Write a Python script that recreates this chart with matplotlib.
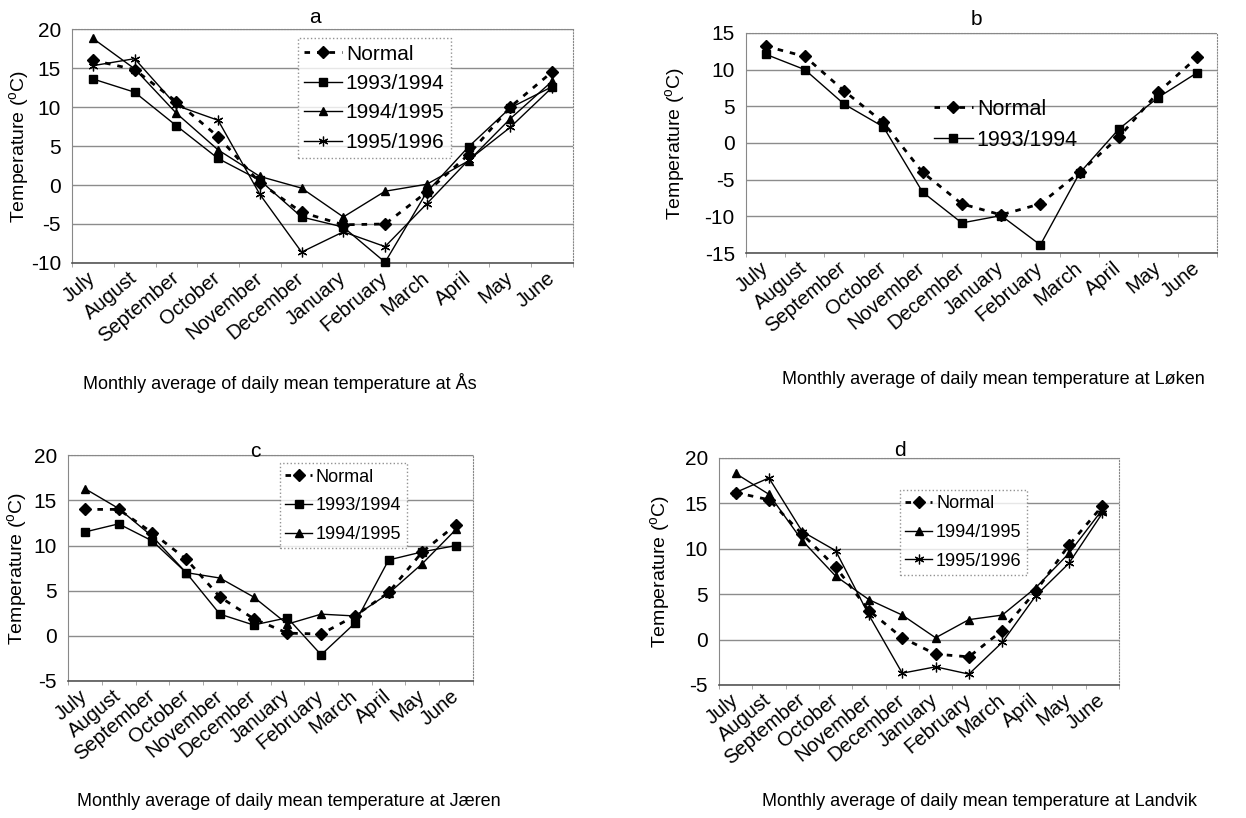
import matplotlib
matplotlib.use("Agg")
import matplotlib.pyplot as plt
import numpy as np

plt.rcParams['font.family'] = ['Liberation Sans', 'DejaVu Sans']
plt.rcParams['mathtext.fontset'] = 'custom'
plt.rcParams['mathtext.rm'] = 'Liberation Sans'
plt.rcParams['axes.unicode_minus'] = False

# data
months = ['July', 'August', 'September', 'October', 'November', 'December',
          'January', 'February', 'March', 'April', 'May', 'June']

as_normal = [16.0, 14.8, 10.7, 6.2, 0.3, -3.5, -5.1, -5.0, -0.9, 3.9, 10.0, 14.5]
as_1993 = [13.6, 11.9, 7.6, 3.4, 0.6, -4.1, -5.4, -9.9, -0.9, 4.9, 9.9, 12.6]
as_1994 = [18.8, 14.9, 9.2, 4.5, 1.1, -0.4, -4.1, -0.8, 0.1, 3.1, 8.5, 13.3]
as_1995 = [15.3, 16.2, 10.2, 8.3, -1.2, -8.6, -6.0, -7.9, -2.4, 3.2, 7.4, 12.5]

loken_normal = [13.2, 11.8, 7.1, 2.8, -4.0, -8.3, -9.8, -8.3, -4.0, 0.8, 6.9, 11.7]
loken_1993 = [12.1, 10.0, 5.3, 2.2, -6.7, -10.9, -9.9, -13.9, -4.1, 1.9, 6.2, 9.6]

jaeren_normal = [14.0, 14.0, 11.4, 8.5, 4.3, 1.9, 0.3, 0.2, 2.2, 4.8, 9.3, 12.3]
jaeren_1993 = [11.5, 12.4, 10.5, 7.0, 2.4, 1.2, 2.0, -2.1, 1.4, 8.4, 9.3, 10.0]
jaeren_1994 = [16.3, 14.1, 11.0, 7.0, 6.4, 4.3, 1.3, 2.4, 2.2, 4.7, 8.0, 11.8]

landvik_normal = [16.2, 15.4, 11.6, 8.0, 3.2, 0.2, -1.6, -1.9, 1.0, 5.3, 10.4, 14.7]
landvik_1994 = [18.3, 16.0, 10.9, 7.0, 4.4, 2.7, 0.2, 2.2, 2.7, 5.7, 9.5, 14.3]
landvik_1995 = [16.2, 17.8, 11.9, 9.8, 2.7, -3.7, -3.0, -3.8, -0.3, 4.8, 8.4, 13.9]

styles = {
    'Normal': dict(marker='D', ms=6.5, lw=2.0, ls=(0, (2, 2.5))),
    '1993/1994': dict(marker='s', ms=5.5, lw=1.0, ls='-'),
    '1994/1995': dict(marker='^', ms=6, lw=1.0, ls='-'),
    '1995/1996': dict(marker=(6, 2, 0), ms=7, lw=1.0, ls='-', mew=0.9),
}

fig = plt.figure(figsize=(12.46, 8.18), dpi=100)


def draw_panel(rect, series, ylim, letter, letter_pos, xlabel, xlabel_pos, legend_pos, ylabel_x,
               legend_size=15, handle_len=1.8, spacing=0.5, legend_frame=True):
    ax = fig.add_axes(rect)
    x = np.arange(len(months)) + 0.5

    for name, values in series:
        st = styles[name]
        ax.plot(x, values, color='black', marker=st['marker'], markersize=st['ms'],
                linewidth=st['lw'], linestyle=st['ls'], mew=st.get('mew', 1.0),
                label=name, clip_on=False, zorder=3)

    ax.set_xlim(0, len(months))
    ax.set_ylim(*ylim)
    ax.set_yticks(np.arange(ylim[0], ylim[1] + 1, 5))
    ax.yaxis.grid(True, color='#8c8c8c', linewidth=1.0)
    ax.set_axisbelow(True)
    ax.tick_params(axis='y', length=0, pad=8, labelsize=15)

    # month names in the middle of each category, ticks on the boundaries
    ax.set_xticks(x)
    ax.set_xticklabels(months, rotation=40, ha='right', va='center', rotation_mode='anchor', fontsize=14.5)
    ax.tick_params(axis='x', which='major', length=0, pad=9)
    ax.set_xticks(np.arange(0, len(months) + 1), minor=True)
    ax.tick_params(axis='x', which='minor', length=3, color='#999999', direction='out')

    for side in ['top', 'right']:
        ax.spines[side].set_linestyle(':')
        ax.spines[side].set_color('#888888')
    ax.spines['left'].set_color('#888888')
    ax.spines['bottom'].set_color('#555555')
    ax.spines['bottom'].set_linewidth(1.2)

    ax.set_ylabel('Temperature ($^{\\mathrm{o}}$C)', fontsize=14)
    ax.yaxis.set_label_coords(ylabel_x, 0.5)
    ax.text(letter_pos[0], letter_pos[1], letter, transform=ax.transAxes, ha='center', va='center', fontsize=15)
    fig.text(xlabel_pos[0] / 1246, 1 - xlabel_pos[1] / 818, xlabel, ha='center', va='center', fontsize=13)

    leg = ax.legend(loc='upper left', bbox_to_anchor=legend_pos, fontsize=legend_size, frameon=legend_frame,
                    fancybox=False, handlelength=handle_len, handletextpad=0.2, labelspacing=spacing,
                    borderpad=0.3, borderaxespad=0)
    if legend_frame:
        leg.get_frame().set_edgecolor('#777777')
        leg.get_frame().set_linestyle(':')
        leg.get_frame().set_linewidth(1.0)
    return ax


draw_panel([0.0578, 0.6785, 0.402, 0.286],
           [('Normal', as_normal), ('1993/1994', as_1993), ('1994/1995', as_1994), ('1995/1996', as_1995)],
           (-10, 20), 'a', (0.485, 1.05),
           'Monthly average of daily mean temperature at Ås', (280, 383), (0.451, 0.96), -0.08)

draw_panel([0.5987, 0.6907, 0.378, 0.269],
           [('Normal', loken_normal), ('1993/1994', loken_1993)],
           (-15, 15), 'b', (0.49, 1.06),
           'Monthly average of daily mean temperature at Løken', (993, 380), (0.385, 0.73), -0.123,
           legend_size=15.5, spacing=0.45, legend_frame=False)

draw_panel([0.0546, 0.1675, 0.325, 0.276],
           [('Normal', jaeren_normal), ('1993/1994', jaeren_1993), ('1994/1995', jaeren_1994)],
           (-5, 20), 'c', (0.462, 1.015),
           'Monthly average of daily mean temperature at Jæren', (289, 802), (0.523, 0.965), -0.094,
           legend_size=13, handle_len=1.5, spacing=0.65)

draw_panel([0.577, 0.1626, 0.321, 0.2775],
           [('Normal', landvik_normal), ('1994/1995', landvik_1994), ('1995/1996', landvik_1995)],
           (-5, 20), 'd', (0.4525, 1.035),
           'Monthly average of daily mean temperature at Landvik', (980, 801), (0.4525, 0.86), -0.115,
           legend_size=13, handle_len=1.5, spacing=0.65)

fig.savefig('out.png', dpi=100)
